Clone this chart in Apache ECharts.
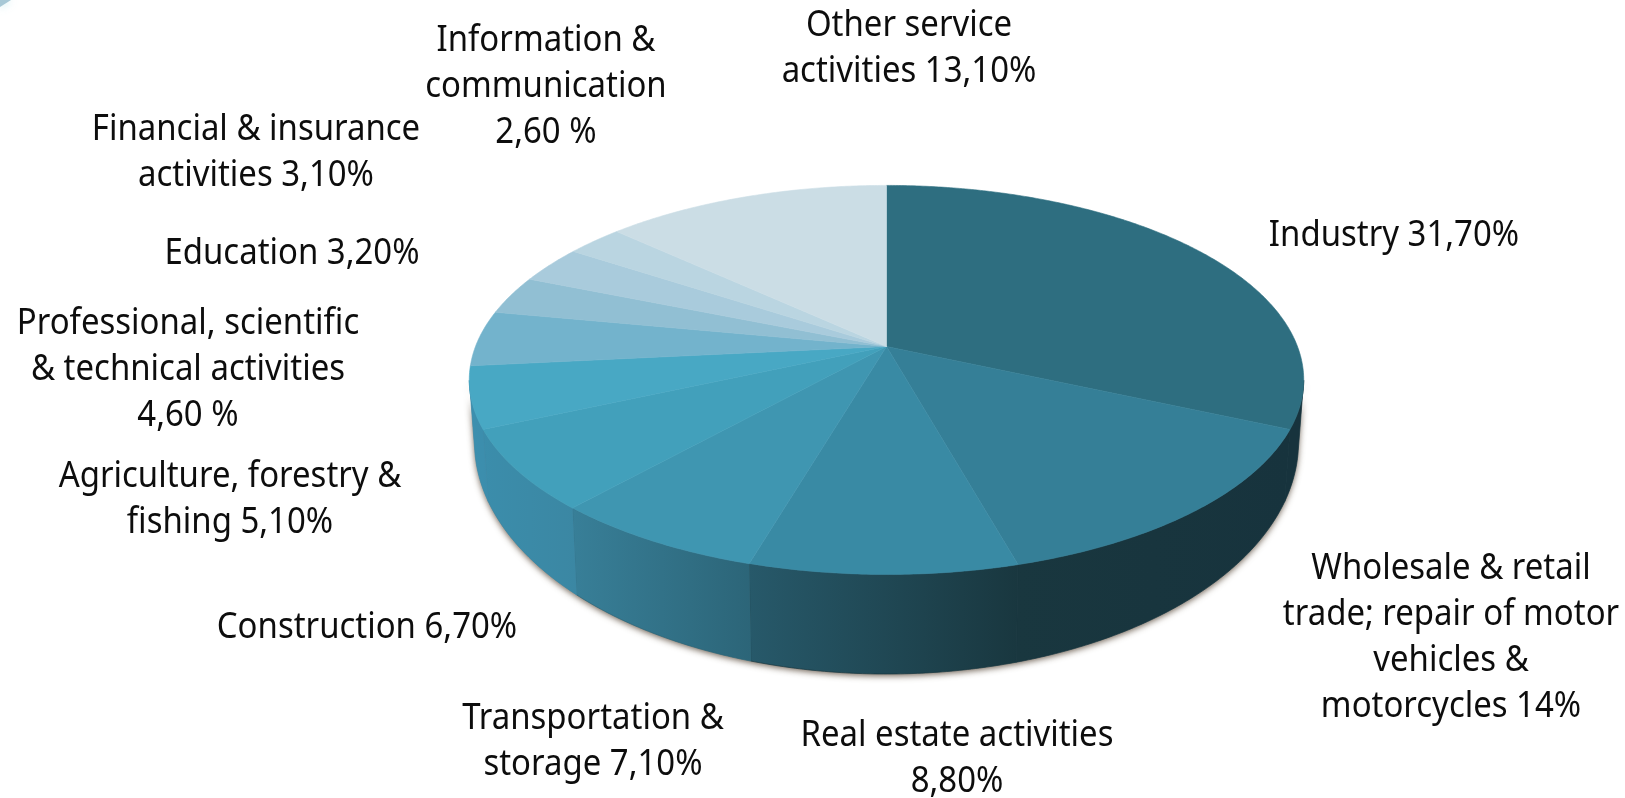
<!DOCTYPE html>
<html><head><meta charset="utf-8">
<style>html,body{margin:0;padding:0;background:#fff}#c{width:1625px;height:798px}</style>
<script src="https://cdn.jsdelivr.net/npm/echarts@6/dist/echarts.min.js"></script>
</head><body><div id="c"></div>
<script>
const categories = ["Industry","Wholesale & retail trade; repair of motor vehicles & motorcycles","Real estate activities","Transportation & storage","Construction","Agriculture, forestry & fishing","Professional, scientific & technical activities","Education","Financial & insurance activities","Information & communication","Other service activities"];
const values = [31.7,14,8.8,7.1,6.7,5.1,4.6,3.2,3.1,2.6,13.1];
const labelTexts = ["Industry 31,70%","Wholesale & retail\ntrade; repair of motor\nvehicles &\nmotorcycles 14%","Real estate activities\n8,80%","Transportation &\nstorage 7,10%","Construction 6,70%","Agriculture, forestry &\nfishing 5,10%","Professional, scientific\n& technical activities\n4,60 %","Education 3,20%","Financial & insurance\nactivities 3,10%","Information &\ncommunication\n2,60 %","Other service\nactivities 13,10%"];
const topColors = ["#2e6e80","#357f97","#398aa4","#3f96b1","#42a0bb","#48a8c4","#73b3cc","#91bfd3","#a9cbdc","#bad5e1","#cbdde5"];
const wallLeft = ["#17333d","#19373f","#27596a","#387f98","#3b8dab","#3c90af","#3c90af","#3c90af","#3c90af","#3c90af","#3c90af"];
const wallRight = ["#17333d","#17333d","#19373f","#2c6578","#3b87a3","#3c8dac","#3c8dac","#3c8dac","#3c8dac","#3c8dac","#3c8dac"];
const labelCenters = [[1394,235],[1451,637],[957,758],[593,741],[367,627],[230,499],[188,369],[292,253],[256,152],[546,86],[909,48]];

const G = {cx:886.5, cy:346.5, s:411, a:188.8, k:0.172, rimRx:417.5, botCy:442, botRx:412, botRy:232, wallFrom:100, wallTo:260};
const T = {font:'37px "Noto Sans", sans-serif', lineHeight:46, scaleX:0.89, color:'#0d0d0d'};
const total = values.reduce((p,v)=>p+v,0);
const starts = []; values.reduce((p,v,i)=>{starts[i]=p;return p+v;},0);
const rad = d=>d*Math.PI/180;
function rim(deg){
  const x=Math.sin(rad(deg)), y=-Math.cos(rad(deg)), d=1-G.k*y;
  return [G.cx+G.s*x/d, G.cy+G.a*y/d];
}
function under(p){
  let u=(p[0]-G.cx)/G.rimRx; u=Math.max(-1,Math.min(1,u));
  return [G.cx+G.botRx*u, G.botCy+G.botRy*Math.sqrt(1-u*u)];
}
function arc(a,b){const n=Math.max(2,Math.ceil((b-a)*2)),o=[];for(let i=0;i<=n;i++)o.push(rim(a+(b-a)*i/n));return o;}
function wallShape(a,b){const r=arc(a,b);return r.concat(r.map(under).reverse());}

function renderWall(params,api){
  const i=params.dataIndex, v=api.value(0);
  const a=Math.max(G.wallFrom,starts[i]/total*360), b=Math.min(G.wallTo,(starts[i]+v)/total*360);
  const kids=[];
  if(i===0){
    kids.push({type:'polygon',shape:{points:wallShape(G.wallFrom,G.wallTo)},
      style:{fill:'#7d8a8c',shadowBlur:6,shadowColor:'rgba(90,75,60,0.85)',shadowOffsetY:2}});
  }
  if(b>a){
    kids.push({type:'polygon',shape:{points:wallShape(a,b)},
      style:{fill:{type:'linear',x:0,y:0,x2:1,y2:0,colorStops:[{offset:0,color:wallLeft[i]},{offset:1,color:wallRight[i]}]},
        stroke:wallRight[i],lineWidth:0.7}});
  }
  return {type:'group',children:kids};
}
function renderTop(params,api){
  const i=params.dataIndex, v=api.value(0);
  const a=starts[i]/total*360, b=(starts[i]+v)/total*360;
  return {type:'polygon',shape:{points:[[G.cx,G.cy]].concat(arc(a,b))},
    style:{fill:topColors[i],stroke:topColors[i],lineWidth:0.6}};
}
function renderLabel(params){
  const i=params.dataIndex, c=labelCenters[i];
  return {type:'text',x:c[0],y:c[1],scaleX:T.scaleX,style:{text:labelTexts[i],fill:T.color,
    font:T.font,lineHeight:T.lineHeight,align:'center',verticalAlign:'middle'}};
}
const seriesData = values.map((v,i)=>({name:categories[i],value:[v]}));
const chart = echarts.init(document.getElementById('c'),null,{renderer:'canvas'});
chart.setOption({
  animation:false, backgroundColor:'#fff',
  graphic:[{type:'polygon',silent:true,shape:{points:[[0,0],[11,0],[0,7]]},
    style:{fill:'#a7c8d6',shadowBlur:9,shadowColor:'rgba(150,215,225,0.7)'}}],
  series:[
    {type:'custom',coordinateSystem:'none',silent:true,z:1,renderItem:renderWall,data:seriesData},
    {type:'custom',coordinateSystem:'none',silent:true,z:2,renderItem:renderTop,data:seriesData},
    {type:'custom',coordinateSystem:'none',silent:true,z:3,renderItem:renderLabel,data:seriesData}
  ]
});
</script></body></html>
